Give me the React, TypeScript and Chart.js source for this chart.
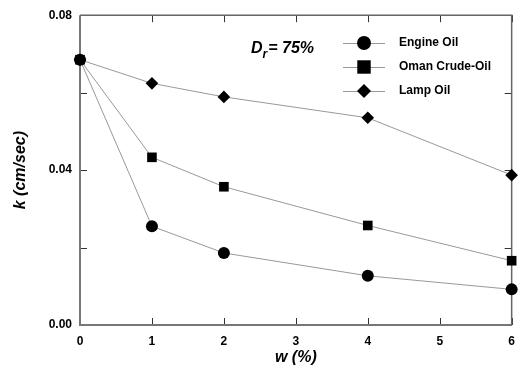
import React, { useEffect, useRef } from "react";
import { Chart, registerables } from "chart.js";

Chart.register(...registerables);

const xValues = [0, 1, 2, 4, 6];
const engineOil = [0.0685, 0.0255, 0.0186, 0.0127, 0.0092];
const omanCrudeOil = [0.0685, 0.0433, 0.0357, 0.0257, 0.0166];
const lampOil = [0.0685, 0.0624, 0.0589, 0.0535, 0.0387];
const seriesNames = ["Engine Oil", "Oman Crude-Oil", "Lamp Oil"];
const annotationMain = "D";
const annotationSub = "r";
const annotationRest = "= 75%";

const FONT = "Liberation Sans";

function drawMarker(ctx: CanvasRenderingContext2D, style: string, x: number, y: number, r: number) {
  ctx.beginPath();
  if (style === "circle") {
    ctx.arc(x, y, r, 0, Math.PI * 2);
  } else if (style === "rect") {
    const s = r * Math.SQRT1_2;
    ctx.rect(x - s, y - s, 2 * s, 2 * s);
  } else {
    ctx.moveTo(x - r, y);
    ctx.lineTo(x, y - r);
    ctx.lineTo(x + r, y);
    ctx.lineTo(x, y + r);
    ctx.closePath();
  }
  ctx.fill();
}

const framePlugin = {
  id: "frame",
  beforeDatasetsDraw(chart: any) {
    const { ctx, chartArea } = chart;
    const { left, right, top, bottom } = chartArea;
    const xs = chart.scales.x;
    const ys = chart.scales.y;
    ctx.save();
    ctx.strokeStyle = "#333";
    ctx.lineWidth = 1;
    const tl = 7;
    xs.ticks.forEach((t: any) => {
      const px = Math.round(xs.getPixelForValue(t.value)) + 0.5;
      ctx.beginPath();
      ctx.moveTo(px, bottom);
      ctx.lineTo(px, bottom - tl);
      ctx.moveTo(px, top);
      ctx.lineTo(px, top + tl);
      ctx.stroke();
    });
    ys.ticks.forEach((t: any) => {
      const py = Math.round(ys.getPixelForValue(t.value)) + 0.5;
      ctx.beginPath();
      ctx.moveTo(left, py);
      ctx.lineTo(left + tl, py);
      ctx.moveTo(right, py);
      ctx.lineTo(right - tl, py);
      ctx.stroke();
    });
    ctx.strokeStyle = "#777";
    ctx.lineWidth = 2;
    ctx.beginPath();
    ctx.moveTo(left, top);
    ctx.lineTo(left, bottom);
    ctx.lineTo(right, bottom);
    ctx.stroke();
    ctx.strokeStyle = "#666";
    ctx.lineWidth = 1.5;
    ctx.beginPath();
    ctx.moveTo(left, top);
    ctx.lineTo(right, top);
    ctx.lineTo(right, bottom);
    ctx.stroke();
    ctx.restore();
  },
  afterDatasetsDraw(chart: any) {
    const { ctx } = chart;
    ctx.save();
    const rows = [43, 67, 91];
    chart.data.datasets.forEach((ds: any, i: number) => {
      const y = rows[i];
      ctx.strokeStyle = "#999";
      ctx.lineWidth = 1;
      ctx.beginPath();
      ctx.moveTo(343, y + 0.5);
      ctx.lineTo(385, y + 0.5);
      ctx.stroke();
      ctx.fillStyle = "#000";
      drawMarker(ctx, ds.pointStyle, 364, y, ds.pointStyle === "rect" ? 9.5 : 7);
      ctx.font = `bold 12px "${FONT}"`;
      ctx.textBaseline = "middle";
      ctx.textAlign = "left";
      ctx.fillText(ds.label, 399, y);
    });
    ctx.fillStyle = "#000";
    ctx.textBaseline = "alphabetic";
    ctx.font = `italic bold 16px "${FONT}"`;
    ctx.fillText(annotationMain, 251, 53);
    const dW = ctx.measureText(annotationMain).width;
    ctx.font = `italic bold 12px "${FONT}"`;
    ctx.fillText(annotationSub, 251 + dW, 58);
    const rW = ctx.measureText(annotationSub).width;
    ctx.font = `italic bold 16px "${FONT}"`;
    ctx.fillText(annotationRest, 251 + dW + rW + 1, 53);
    ctx.restore();
  },
};

export default function App() {
  const ref = useRef<HTMLCanvasElement>(null);
  useEffect(() => {
    if (!ref.current) return;
    const mk = (label: string, data: number[], style: string, r: number) => ({
      label,
      data: xValues.map((x, i) => ({ x, y: data[i] })),
      borderColor: "#999",
      borderWidth: 1,
      backgroundColor: "#000",
      pointBackgroundColor: "#000",
      pointBorderColor: "#000",
      pointBorderWidth: 0,
      pointStyle: style,
      pointRadius: r,
      fill: false,
      tension: 0,
      clip: false as any,
    });
    const tickFont = { family: FONT, weight: 700, size: 12 };
    const titleFont = { family: FONT, weight: 700, style: "italic", size: 16 };
    const chart = new Chart(ref.current, {
      type: "line",
      data: {
        datasets: [
          mk(seriesNames[0], engineOil, "circle", 6),
          mk(seriesNames[1], omanCrudeOil, "rect", 6.8),
          mk(seriesNames[2], lampOil, "rectRot", 6.3),
        ],
      },
      options: {
        animation: false,
        responsive: false,
        events: [],
        layout: { padding: { top: 11, right: 8, left: 0, bottom: 0 } },
        plugins: { legend: { display: false }, tooltip: { enabled: false } },
        scales: {
          x: {
            type: "linear",
            min: 0,
            max: 6,
            border: { display: false },
            grid: { display: false, drawTicks: false },
            ticks: { stepSize: 1, padding: 9, color: "#000", font: tickFont },
            title: { display: true, text: "w (%)", color: "#000", font: titleFont, padding: { top: 0, bottom: 1 } },
            afterFit: (s: any) => {
              s.height = 43;
            },
          },
          y: {
            type: "linear",
            min: 0,
            max: 0.08,
            border: { display: false },
            grid: { display: false, drawTicks: false },
            ticks: {
              stepSize: 0.02,
              padding: 8,
              color: "#000",
              font: tickFont,
              callback: (v: any) => (Math.round(Number(v) * 100) % 4 === 0 ? Number(v).toFixed(2) : ""),
            },
            title: { display: true, text: "k (cm/sec)", color: "#000", font: titleFont, padding: { top: 11, bottom: 0 } },
            afterFit: (s: any) => {
              s.width = 80;
            },
          },
        },
      } as any,
      plugins: [framePlugin],
    });
    return () => chart.destroy();
  }, []);
  return (
    <div style={{ position: "absolute", left: 0, top: 0, width: 524, height: 368, background: "#fff" }}>
      <canvas ref={ref} width={524} height={368} style={{ display: "block" }} />
    </div>
  );
}
